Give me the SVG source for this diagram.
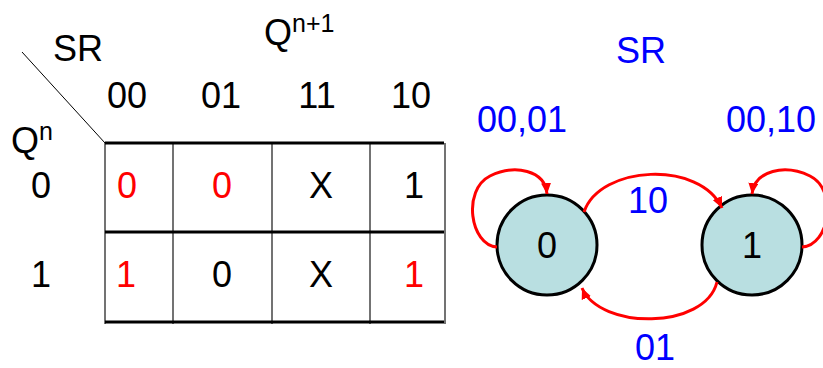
<svg xmlns="http://www.w3.org/2000/svg" width="823" height="368" viewBox="0 0 823 368">
<style>
text{font-family:"Liberation Sans",Arial,sans-serif;font-size:36px;fill:#000}
.c{text-anchor:middle}
.r{fill:#ff0000}
.b{fill:#0000ff}
.sup{font-size:25px}
.h{stroke:#000;stroke-width:3}
.v{stroke:#444;stroke-width:1.5}
.st{fill:#b9dfe1;stroke:#000;stroke-width:3}
.e{fill:none;stroke:#ff0000;stroke-width:3;marker-end:url(#ah)}
</style>
<defs>
<marker id="ah" markerUnits="userSpaceOnUse" markerWidth="12" markerHeight="10" refX="11" refY="5" orient="auto">
<path d="M0,0 L11,5 L0,10 z" fill="#ff0000"/>
</marker>
</defs>
<g id="kmap">
<line x1="22" y1="52" x2="105" y2="143" stroke="#000" stroke-width="1"/>
<text x="53" y="61">SR</text>
<text x="264" y="45">Q<tspan class="sup" dy="-13">n+1</tspan></text>
<text x="11" y="153">Q<tspan class="sup" dy="-13">n</tspan></text>
<text class="c" x="127" y="108">00</text>
<text class="c" x="221" y="108">01</text>
<text class="c" x="317" y="108">11</text>
<text class="c" x="411" y="108">10</text>
<text class="c" x="41" y="198">0</text>
<text class="c" x="41" y="287">1</text>
<line class="v" x1="105" y1="143" x2="105" y2="324"/>
<line class="v" x1="173" y1="143" x2="173" y2="324"/>
<line class="v" x1="272" y1="143" x2="272" y2="324"/>
<line class="v" x1="370" y1="143" x2="370" y2="324"/>
<line class="v" x1="445" y1="143" x2="445" y2="324"/>
<line class="h" x1="105" y1="143" x2="444" y2="143"/>
<line class="h" x1="105" y1="232" x2="444" y2="232"/>
<line class="h" x1="105" y1="322" x2="444" y2="322"/>
<text class="c r" x="127" y="198">0</text>
<text class="c r" x="222" y="198">0</text>
<text class="c" x="321" y="198">X</text>
<text class="c" x="414" y="198">1</text>
<text class="c r" x="126" y="287">1</text>
<text class="c" x="222" y="287">0</text>
<text class="c" x="321" y="287">X</text>
<text class="c r" x="414" y="287">1</text>
</g>
<g id="state0">
<circle class="st" cx="547" cy="245" r="50"/>
<text class="c" x="547" y="258">0</text>
</g>
<g id="state1">
<circle class="st" cx="752" cy="245" r="50"/>
<text class="c" x="752" y="258">1</text>
</g>
<g id="connectors">
<path class="e" d="M497,247 C470,245 462,190 490,176 C515,164 545,170 547,194"/>
<path class="e" d="M802,247 C830,245 838,190 810,176 C785,164 755,170 752,194"/>
<path class="e" d="M584,212 C600,165 700,160 722,208"/>
<path class="e" d="M717,282 C705,330 600,330 582,288"/>
</g>
<g id="labels">
<text class="c b" x="641" y="63">SR</text>
<text class="c b" x="522" y="132">00,01</text>
<text class="c b" x="771" y="132">00,10</text>
<text class="c b" x="648" y="213">10</text>
<text class="c b" x="655" y="360">01</text>
</g>
</svg>
